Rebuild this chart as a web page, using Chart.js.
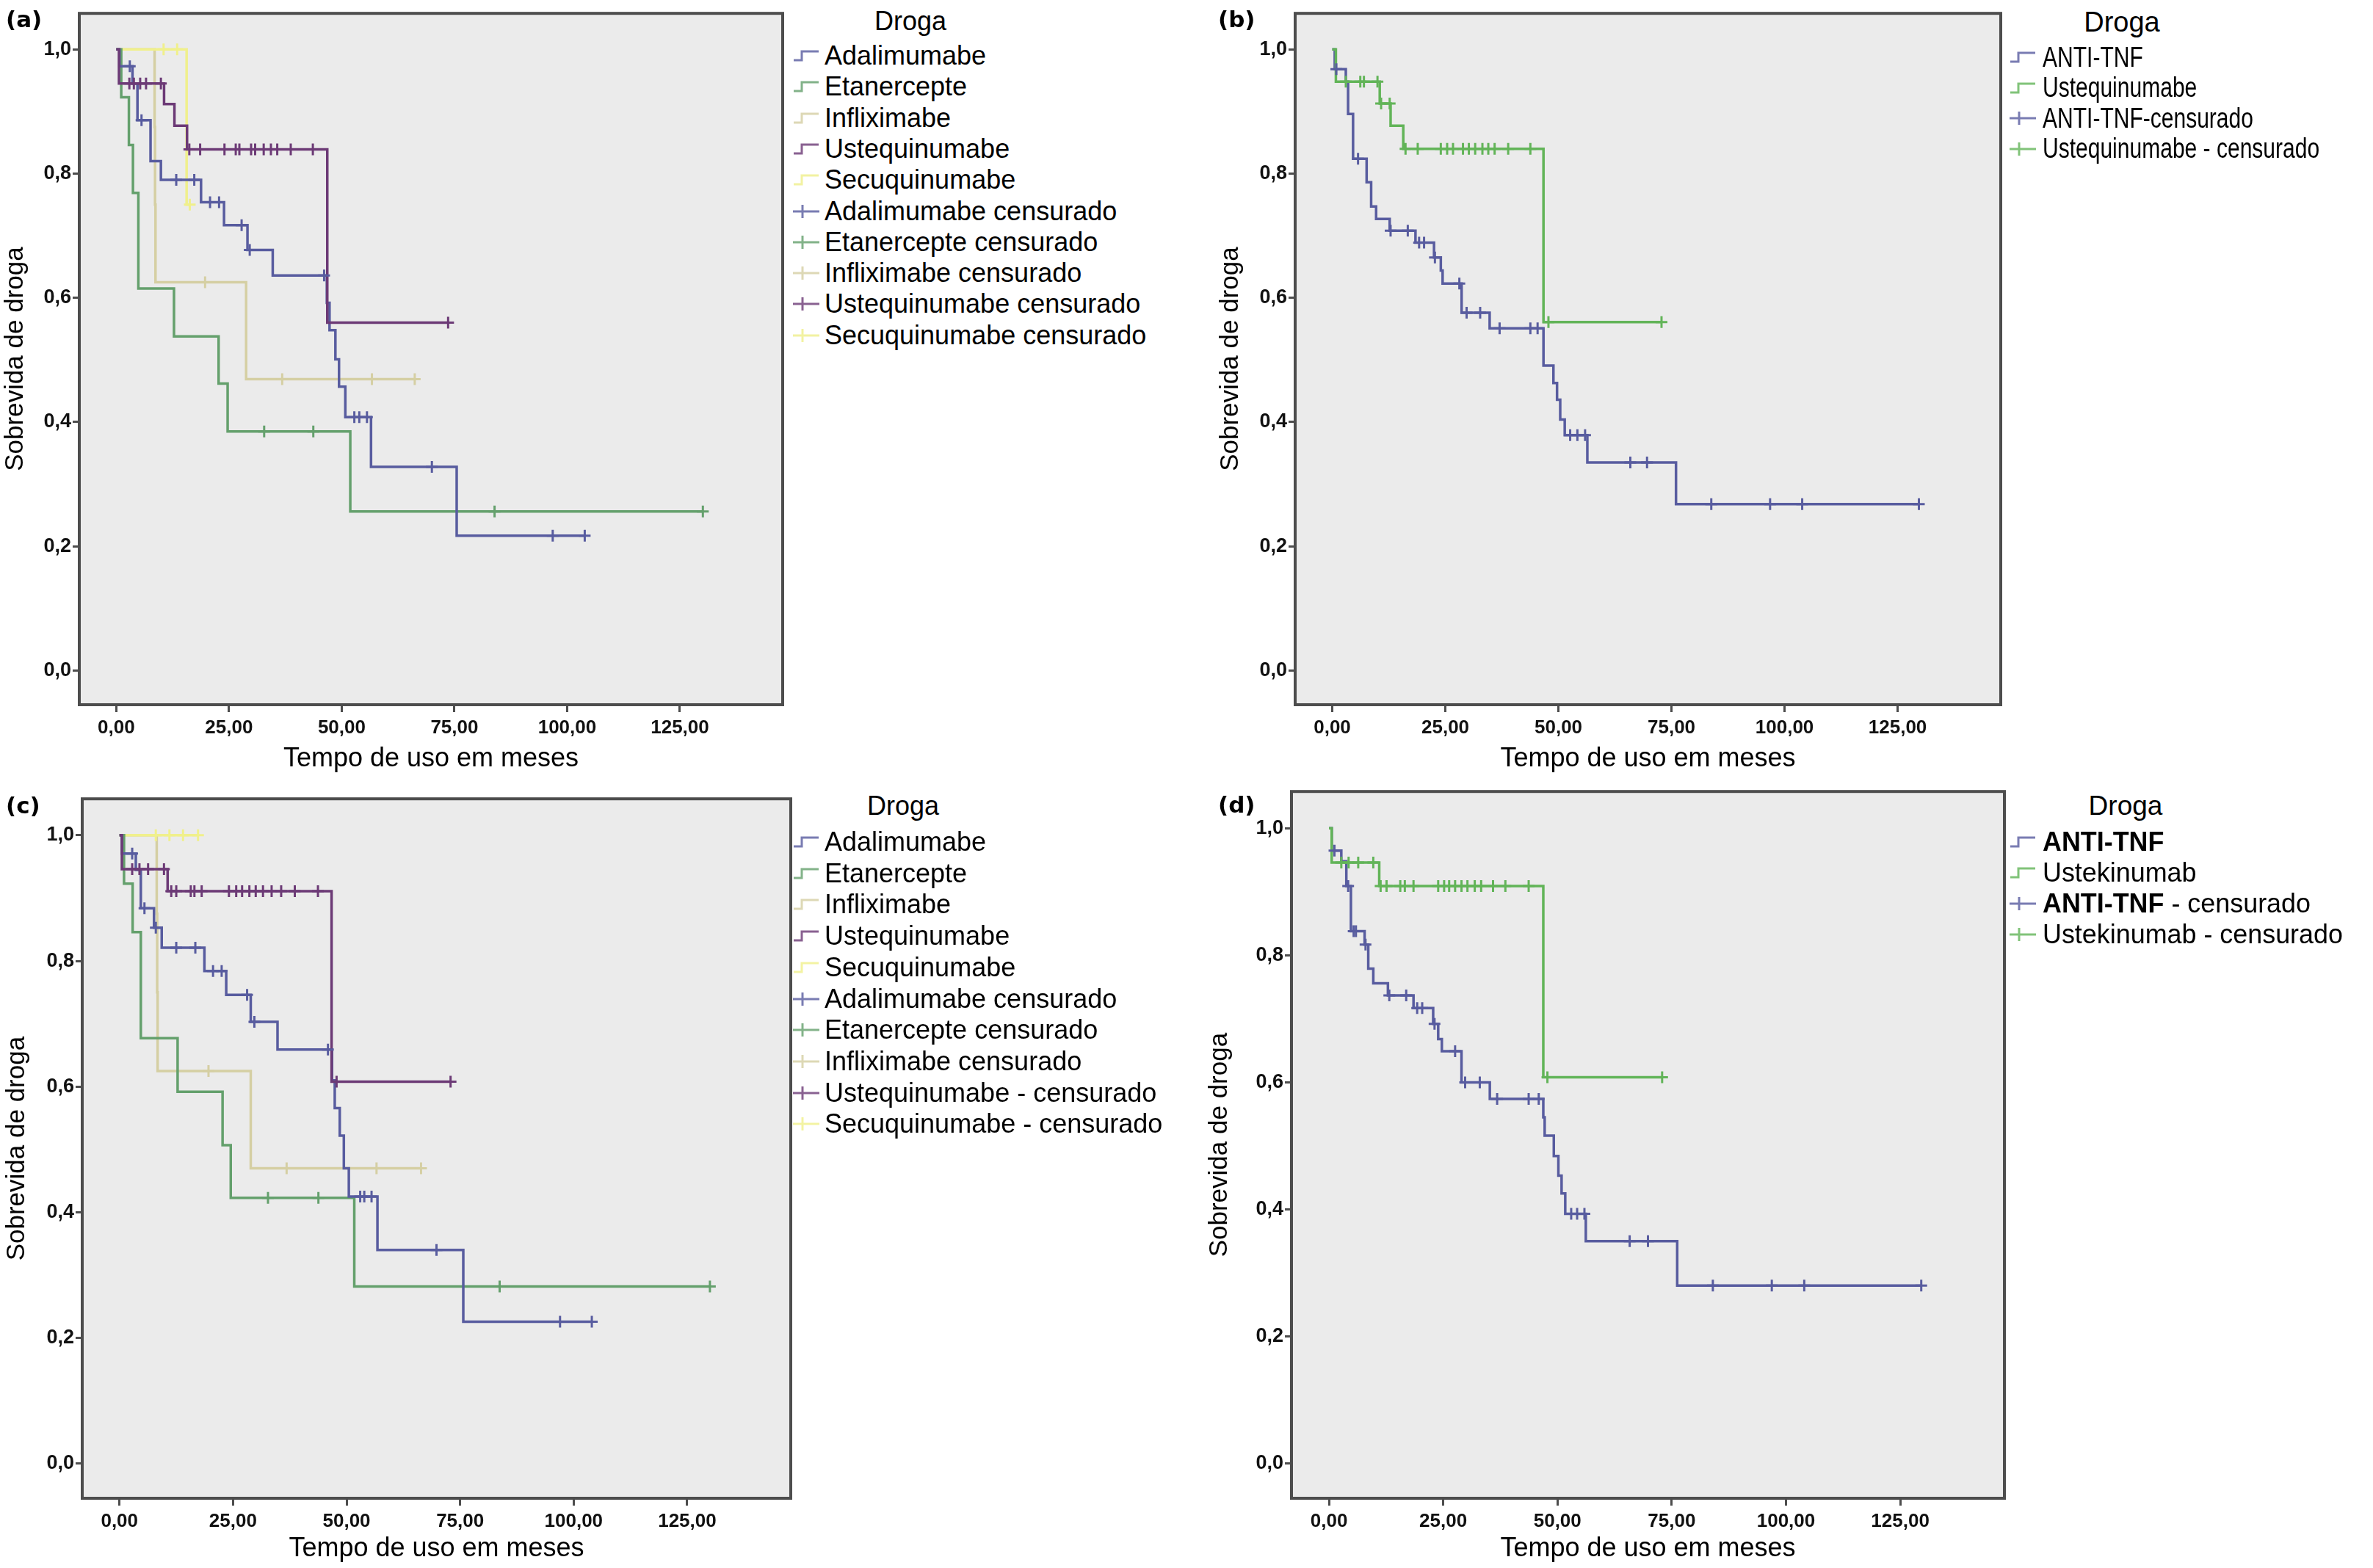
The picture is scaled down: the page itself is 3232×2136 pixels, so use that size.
<!DOCTYPE html>
<html lang="pt">
<head>
<meta charset="utf-8">
<title>Sobrevida de droga</title>
<script src="https://cdn.jsdelivr.net/npm/chart.js@4.4.1/dist/chart.umd.min.js"></script>
<style>
  html, body { margin: 0; padding: 0; background: #fff; }
  #page { position: relative; width: 3232px; height: 2136px; overflow: hidden; font-family: "Liberation Sans", Arial, sans-serif; }
  canvas { position: absolute; }
  .tag { position: absolute; font-family: "DejaVu Sans", sans-serif; font-weight: bold; font-size: 31px; line-height: 36px; }
  .legend { position: absolute; top: 0; color: #000; }
  .legend .title { position: absolute; white-space: nowrap; line-height: 42px; transform: translateX(-50%); }
  .legend .row { position: absolute; left: 0; height: 42px; display: flex; align-items: center; white-space: nowrap; }
  .legend svg { flex: none; opacity: 0.8; }
  .legend .txt { display: inline-block; transform-origin: left center; }
</style>
</head>
<body>
<div id="page"></div>
<script>
// tick values (same on all four panels)
const xTickValues = [0, 25, 50, 75, 100, 125];
const yTickValues = [0, 0.2, 0.4, 0.6, 0.8, 1.0];

// (a) event times (months), survival after each event, censored times
const aAdaT = [0.7, 3.6, 4.7, 7.6, 9.9, 18.8, 23.9, 29.1, 34.7, 46.7, 47.3, 48.6, 49.4, 50.8, 56.5, 75.5];
const aAdaS = [0.973, 0.945, 0.886, 0.820, 0.790, 0.754, 0.717, 0.677, 0.636, 0.592, 0.548, 0.501, 0.457, 0.408, 0.328, 0.217];
const aAdaC = [3.0, 5.6, 13.3, 17.3, 20.8, 22.8, 27.8, 29.6, 46.1, 52.8, 53.9, 55.6, 70.0, 96.8, 103.9];
const aEtaT = [1.1, 2.8, 3.7, 4.9, 12.8, 22.7, 24.7, 51.9];
const aEtaS = [0.923, 0.846, 0.769, 0.615, 0.538, 0.462, 0.385, 0.256];
const aEtaC = [32.8, 43.7, 83.9, 130.1];
const aInfT = [8.5, 8.6, 8.7, 28.8];
const aInfS = [0.875, 0.750, 0.625, 0.469];
const aInfC = [19.7, 36.8, 56.7, 66.2];
const aUstT = [0.6, 10.6, 12.9, 15.7, 46.8];
const aUstS = [0.945, 0.912, 0.877, 0.839, 0.560];
const aUstC = [2.9, 3.9, 5.3, 6.6, 9.9, 16.2, 18.6, 24.0, 26.5, 27.3, 29.9, 30.8, 32.7, 34.3, 35.7, 38.7, 43.6, 73.6];
const aSecT = [15.6];
const aSecS = [0.75];
const aSecC = [10.5, 13.5, 16.3];

// (b)
const bTnfT = [0.55, 3.0, 3.5, 4.6, 7.6, 8.6, 9.7, 12.7, 18.4, 22.5, 24.0, 24.4, 28.6, 34.8, 46.7, 48.9, 49.7, 50.4, 51.4, 56.4, 76.0];
const bTnfS = [0.968, 0.948, 0.896, 0.824, 0.786, 0.747, 0.727, 0.708, 0.689, 0.665, 0.644, 0.623, 0.576, 0.551, 0.491, 0.463, 0.436, 0.404, 0.379, 0.335, 0.268];
const bTnfC = [0.9, 5.7, 12.9, 16.7, 19.2, 20.3, 22.7, 28.1, 29.7, 32.7, 37.0, 43.8, 45.4, 52.6, 54.2, 55.9, 65.9, 69.6, 83.8, 96.8, 103.9, 129.7];
const bUstT = [0.8, 10.5, 12.9, 15.7, 46.7];
const bUstS = [0.948, 0.913, 0.877, 0.840, 0.561];
const bUstC = [3.0, 6.2, 7.0, 10.0, 10.8, 12.7, 16.2, 18.9, 24.0, 25.4, 26.7, 28.9, 30.2, 31.6, 33.2, 34.5, 35.9, 38.9, 43.8, 47.8, 72.8];

// (c)
const cAdaT = [0.53, 3.6, 4.7, 7.6, 9.3, 18.7, 23.5, 28.9, 34.8, 46.8, 47.4, 48.5, 49.4, 50.5, 56.8, 75.7];
const cAdaS = [0.971, 0.945, 0.884, 0.853, 0.821, 0.784, 0.746, 0.703, 0.659, 0.610, 0.566, 0.522, 0.470, 0.425, 0.340, 0.226];
const cAdaC = [2.8, 5.5, 8.0, 12.5, 16.7, 20.6, 22.5, 28.1, 29.7, 45.9, 53.0, 53.9, 55.5, 69.8, 97.0, 104.0];
const cEtaT = [1.0, 2.9, 4.7, 12.8, 22.7, 24.5, 51.7];
const cEtaS = [0.923, 0.846, 0.677, 0.592, 0.507, 0.423, 0.282];
const cEtaC = [32.7, 43.8, 83.7, 130.0];
const cInfT = [8.2, 8.3, 8.4, 28.9];
const cInfS = [0.875, 0.750, 0.625, 0.470];
const cInfC = [19.6, 36.8, 56.6, 66.4];
const cUstT = [0.53, 10.6, 46.7];
const cUstS = [0.946, 0.911, 0.608];
const cUstC = [2.8, 4.4, 6.3, 9.8, 11.4, 12.5, 15.7, 16.5, 18.1, 24.1, 25.7, 27.0, 28.6, 30.0, 31.6, 33.5, 35.6, 38.6, 43.7, 47.8, 72.9];
const cSecT = [];
const cSecS = [];
const cSecC = [8.0, 11.0, 14.0, 17.3];

// (d)
const dTnfT = [0.6, 2.7, 3.8, 4.8, 7.8, 8.6, 9.7, 12.9, 18.5, 22.8, 23.9, 24.7, 29.0, 35.2, 46.9, 47.2, 49.2, 50.2, 50.9, 51.7, 56.2, 76.2];
const dTnfS = [0.965, 0.948, 0.909, 0.838, 0.817, 0.779, 0.756, 0.737, 0.717, 0.692, 0.668, 0.649, 0.600, 0.574, 0.545, 0.516, 0.484, 0.453, 0.425, 0.393, 0.350, 0.280];
const dTnfC = [1.2, 4.2, 5.4, 5.9, 8.0, 13.2, 16.9, 19.3, 20.4, 23.1, 27.6, 29.8, 33.0, 36.8, 43.7, 45.9, 53.0, 54.3, 55.9, 65.8, 69.8, 84.0, 96.9, 104.0, 129.6];
const dUstT = [0.6, 11.0, 46.9];
const dUstS = [0.946, 0.909, 0.608];
const dUstC = [2.7, 4.3, 6.4, 9.7, 11.3, 12.6, 15.6, 16.6, 18.5, 23.9, 25.2, 26.3, 27.6, 29.0, 30.3, 31.9, 33.3, 35.9, 38.6, 43.7, 47.8, 72.9];

// legend texts
const legendA = ["Adalimumabe", "Etanercepte", "Infliximabe", "Ustequinumabe", "Secuquinumabe",
  "Adalimumabe censurado", "Etanercepte censurado", "Infliximabe censurado", "Ustequinumabe censurado", "Secuquinumabe censurado"];
const legendB = ["ANTI-TNF", "Ustequinumabe", "ANTI-TNF-censurado", "Ustequinumabe - censurado"];
const legendC = ["Adalimumabe", "Etanercepte", "Infliximabe", "Ustequinumabe", "Secuquinumabe",
  "Adalimumabe censurado", "Etanercepte censurado", "Infliximabe censurado", "Ustequinumabe - censurado", "Secuquinumabe - censurado"];
const legendD = ["ANTI-TNF", "Ustekinumab", "ANTI-TNF - censurado", "Ustekinumab - censurado"];

const X_MIN = -8.2, X_MAX = 147.8;
const Y_MIN = -0.055, Y_MAX = 1.058;

const BLUE = "#585c9f";
const PURPLE = "#6c3a76";
const GREEN = "#64a06c";
const GREEN2 = "#62b458";
const TAN = "#d5cfa3";
const YELLOW = "#f0f08c";
const PLOT_BG = "#ebebeb";
const FRAME = "#4d4d4d";

const page = document.getElementById("page");

// KM step curve: start at 1, drop at each event, run on to the last censoring
function stepPoints(times, surv, cens) {
  const pts = [{ x: 0, y: 1 }];
  times.forEach((t, i) => pts.push({ x: t, y: surv[i] }));
  const last = pts[pts.length - 1];
  const end = Math.max(last.x, ...cens);
  if (end > last.x) pts.push({ x: end, y: last.y });
  return pts;
}

function survivalAt(times, surv, t) {
  let s = 1;
  times.forEach((ti, i) => { if (ti <= t) s = surv[i]; });
  return s;
}

// grey plot area and dark box like SPSS
const framePlugin = {
  id: "frame",
  beforeDraw(chart) {
    const { ctx, chartArea: a } = chart;
    ctx.save();
    ctx.fillStyle = PLOT_BG;
    ctx.fillRect(a.left, a.top, a.right - a.left, a.bottom - a.top);
    ctx.restore();
  },
  afterDraw(chart) {
    const { ctx, chartArea: a } = chart;
    ctx.save();
    ctx.strokeStyle = FRAME;
    ctx.lineWidth = 4;
    ctx.strokeRect(a.left, a.top, a.right - a.left, a.bottom - a.top);
    ctx.restore();
  },
};

function makePanel(p) {
  const cv = document.createElement("canvas");
  cv.width = p.box.w;
  cv.height = p.box.h;
  cv.style.left = p.box.x + "px";
  cv.style.top = p.box.y + "px";
  page.appendChild(cv);

  const datasets = [];
  p.series.forEach((s) => {
    datasets.push({
      type: "line",
      data: stepPoints(s.t, s.s, s.c),
      stepped: true,
      borderColor: s.color,
      borderWidth: 3.5,
      pointRadius: 0,
      fill: false,
      order: 10 + s.z,
    });
    datasets.push({
      type: "scatter",
      data: s.c.map((t) => ({ x: t, y: survivalAt(s.t, s.s, t) })),
      pointStyle: "cross",
      pointRadius: 8,
      pointBorderWidth: 3,
      pointBorderColor: s.color,
      borderColor: s.color,
      order: s.z,
    });
  });

  const tickFont = { family: "Liberation Sans", size: 26, weight: "bold" };
  const titleFont = { family: "Liberation Sans", size: 36 };

  new Chart(cv, {
    type: "line",
    data: { datasets },
    plugins: [framePlugin],
    options: {
      responsive: false,
      animation: false,
      devicePixelRatio: 1,
      layout: { padding: { left: 0, top: p.padTop, right: p.padRight, bottom: 0 } },
      plugins: { legend: { display: false }, tooltip: { enabled: false } },
      scales: {
        x: {
          type: "linear",
          min: X_MIN,
          max: X_MAX,
          afterBuildTicks: (sc) => { sc.ticks = xTickValues.map((v) => ({ value: v })); },
          afterFit: (sc) => { sc.height = p.xH; },
          border: { display: false },
          grid: { drawOnChartArea: false, drawTicks: true, tickLength: 10, tickWidth: 3, tickColor: FRAME },
          ticks: {
            autoSkip: false, maxRotation: 0, padding: 6, color: "#111", font: tickFont,
            callback: (v) => v.toFixed(2).replace(".", ","),
          },
          title: { display: true, text: "Tempo de uso em meses", color: "#000", font: titleFont,
            padding: { top: 0, bottom: p.xTitlePad } },
        },
        y: {
          type: "linear",
          min: Y_MIN,
          max: Y_MAX,
          afterBuildTicks: (sc) => { sc.ticks = yTickValues.map((v) => ({ value: v })); },
          afterFit: (sc) => { sc.width = p.yW; },
          border: { display: false },
          grid: { drawOnChartArea: false, drawTicks: true, tickLength: 9, tickWidth: 3, tickColor: FRAME },
          ticks: {
            autoSkip: false, padding: 2, color: "#111", font: { family: "Liberation Sans", size: 27, weight: "bold" },
            callback: (v) => v.toFixed(1).replace(".", ","),
          },
          title: { display: true, text: "Sobrevida de droga", color: "#000", font: { family: "Liberation Sans", size: 35 },
            padding: { top: p.yTitlePad, bottom: 0 } },
        },
      },
    },
  });

  const tag = document.createElement("div");
  tag.className = "tag";
  tag.textContent = p.tag;
  tag.style.left = p.tagX + "px";
  tag.style.top = p.tagY + "px";
  page.appendChild(tag);
}

function glyph(color, censored) {
  if (censored) {
    return `<svg width="36" height="24"><line x1="0" y1="12" x2="36" y2="12" stroke="${color}" stroke-width="3"/>` +
      `<line x1="13" y1="3" x2="13" y2="21" stroke="${color}" stroke-width="3"/></svg>`;
  }
  return `<svg width="36" height="24"><polyline points="1,18 12,18 12,6 35,6" fill="none" stroke="${color}" stroke-width="3"/></svg>`;
}

function makeLegend(l) {
  const box = document.createElement("div");
  box.className = "legend";
  box.style.left = l.x + "px";
  box.style.fontSize = l.size + "px";
  let html = `<div class="title" style="left:${l.titleX - l.x}px;top:${l.titleY - 21}px">Droga</div>`;
  const n = l.colors.length;
  l.labels.forEach((txt, i) => {
    const censored = i >= n;
    const color = l.colors[i % n];
    let label = txt;
    if (l.boldTnf && txt.startsWith("ANTI-TNF")) label = "<b>ANTI-TNF</b>" + txt.slice(8);
    const top = l.y0 + i * l.dy - 21;
    html += `<div class="row" style="top:${top}px">${glyph(color, censored)}` +
      `<span class="txt" style="margin-left:${l.gap}px;transform:scaleX(${l.squeeze})">${label}</span></div>`;
  });
  box.innerHTML = html;
  page.appendChild(box);
}

// panel (a)
makePanel({
  box: { x: 0, y: 0, w: 1080, h: 1070 }, padTop: 7, padRight: 14, yW: 108, xH: 110,
  xTitlePad: 14, yTitlePad: 0, tag: "(a)", tagX: 8, tagY: 8,
  series: [
    { t: aAdaT, s: aAdaS, c: aAdaC, color: BLUE, z: 2 },
    { t: aEtaT, s: aEtaS, c: aEtaC, color: GREEN, z: 3 },
    { t: aInfT, s: aInfS, c: aInfC, color: TAN, z: 5 },
    { t: aUstT, s: aUstS, c: aUstC, color: PURPLE, z: 1 },
    { t: aSecT, s: aSecS, c: aSecC, color: YELLOW, z: 4 },
  ],
});
makeLegend({ x: 1080, titleX: 1240, titleY: 29, y0: 76, dy: 42.3, gap: 7, size: 36, squeeze: 1,
  labels: legendA, colors: [BLUE, GREEN, TAN, PURPLE, YELLOW] });

// panel (b)
makePanel({
  box: { x: 1655, y: 0, w: 1085, h: 1070 }, padTop: 5, padRight: 15, yW: 109, xH: 110,
  xTitlePad: 14, yTitlePad: 0, tag: "(b)", tagX: 1659, tagY: 8,
  series: [
    { t: bTnfT, s: bTnfS, c: bTnfC, color: BLUE, z: 2 },
    { t: bUstT, s: bUstS, c: bUstC, color: GREEN2, z: 1 },
  ],
});
makeLegend({ x: 2737, titleX: 2890, titleY: 30, y0: 78, dy: 41.5, gap: 9, size: 38, squeeze: 0.79,
  labels: legendB, colors: [BLUE, GREEN2] });

// panel (c)
makePanel({
  box: { x: 0, y: 1070, w: 1090, h: 1066 }, padTop: 7, padRight: 13, yW: 112, xH: 95,
  xTitlePad: 4, yTitlePad: 2, tag: "(c)", tagX: 8, tagY: 1079,
  series: [
    { t: cAdaT, s: cAdaS, c: cAdaC, color: BLUE, z: 2 },
    { t: cEtaT, s: cEtaS, c: cEtaC, color: GREEN, z: 3 },
    { t: cInfT, s: cInfS, c: cInfC, color: TAN, z: 5 },
    { t: cUstT, s: cUstS, c: cUstC, color: PURPLE, z: 1 },
    { t: cSecT, s: cSecS, c: cSecC, color: YELLOW, z: 4 },
  ],
});
makeLegend({ x: 1080, titleX: 1230, titleY: 1098, y0: 1147, dy: 42.7, gap: 7, size: 36, squeeze: 1,
  labels: legendC, colors: [BLUE, GREEN, TAN, PURPLE, YELLOW] });

// panel (d)
makePanel({
  box: { x: 1640, y: 1060, w: 1105, h: 1076 }, padTop: 10, padRight: 15, yW: 119, xH: 95,
  xTitlePad: 4, yTitlePad: 0, tag: "(d)", tagX: 1659, tagY: 1078,
  series: [
    { t: dTnfT, s: dTnfS, c: dTnfC, color: BLUE, z: 2 },
    { t: dUstT, s: dUstS, c: dUstC, color: GREEN2, z: 1 },
  ],
});
makeLegend({ x: 2737, titleX: 2895, titleY: 1098, y0: 1147, dy: 42, gap: 9, size: 37, squeeze: 0.97, boldTnf: true,
  labels: legendD, colors: [BLUE, GREEN2] });
</script>
</body>
</html>
